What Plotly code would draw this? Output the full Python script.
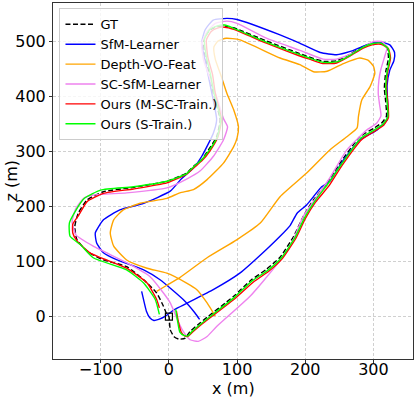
import plotly.graph_objects as go

# trajectories (x, z) in metres
gt_x = [0, 2, 8, 15, 24, 31, 46, 95, 121, 143, 163, 183, 197, 212, 232, 251, 280, 300, 312, 319, 318, 316, 318, 322, 320, 310, 298, 285, 266, 246, 227, 205, 190, 143, 95, 82, 70, 60, 51, 53, 60, 65, 75, 70, 58, 48, 36, 26, -3, -52, -96, -120, -133, -138, -135, -120, -96, -62, -37, -18, -8, -3, 0]
gt_z = [0, -24, -37, -41, -39, -27, -11, 37, 67, 86, 108, 146, 182, 212, 243, 279, 327, 342, 352, 364, 390, 415, 445, 470, 489, 498, 497, 491, 477, 465, 464, 472, 479, 501, 525, 528, 527, 521, 503, 472, 440, 406, 358, 327, 303, 285, 273, 261, 246, 235, 227, 212, 188, 164, 140, 119, 103, 91, 67, 43, 19, 4, 0]

sfm_x = [-40, -37, -33, -28, -22, -15, -5, 7, 65, 104, 143, 163, 178, 188, 202, 212, 224, 236, 256, 280, 305, 320, 321, 320, 324, 330, 331, 324, 310, 290, 266, 246, 222, 190, 163, 100, 85, 65, 53, 48, 53, 63, 70, 65, 48, 36, 18, 2, -37, -72, -96, -108, -106, -96, -76, -37, -13, 21, 38, 45]
sfm_z = [46, 30, 10, -2, -7, -5, 1, 12, 49, 79, 122, 146, 166, 188, 203, 218, 236, 246, 285, 321, 339, 358, 382, 420, 448, 465, 480, 494, 499, 494, 482, 476, 480, 498, 512, 540, 542, 539, 521, 497, 466, 406, 358, 333, 291, 270, 250, 228, 206, 194, 176, 152, 134, 116, 103, 85, 67, 31, 7, -5]

dvo_x = [-18, -3, 16, 56, 100, 134, 163, 202, 236, 261, 276, 278, 283, 295, 302, 300, 292, 280, 256, 232, 212, 192, 163, 104, 84, 72, 66, 68, 77, 85, 95, 102, 100, 95, 80, 56, 36, 16, -3, -42, -67, -81, -86, -81, -62, -32, -3, 26, 41, 56, 68]
dvo_z = [46, 57, 71, 107, 140, 170, 218, 261, 303, 327, 343, 364, 394, 418, 442, 455, 466, 470, 460, 446, 445, 458, 470, 503, 506, 501, 490, 468, 436, 406, 376, 345, 325, 309, 279, 249, 231, 225, 215, 206, 194, 176, 152, 128, 103, 88, 79, 61, 49, 25, 1]

sc_x = [2, 8, 14, 21, 31, 43, 56, 70, 119, 158, 178, 197, 217, 236, 261, 290, 305, 311, 309, 307, 308, 311, 317, 320, 312, 300, 285, 266, 246, 226, 192, 143, 100, 85, 68, 56, 48, 51, 70, 80, 86, 80, 65, 46, 26, -3, -62, -111, -125, -137, -142, -136, -111, -62, -28, -8, 2]
sc_z = [25, 8, -10, -27, -42, -45, -36, -18, 37, 94, 128, 182, 218, 252, 303, 339, 352, 365, 385, 406, 430, 450, 475, 490, 500, 500, 489, 477, 468, 468, 484, 506, 533, 537, 533, 518, 497, 466, 400, 360, 345, 321, 291, 265, 250, 234, 225, 221, 215, 195, 172, 148, 128, 98, 73, 43, 25]

msc_x = [11, 14, 18, 23, 28, 34, 49, 97, 124, 146, 166, 186, 200, 215, 235, 254, 283, 303, 315, 322, 321, 319, 321, 325, 322, 311, 298, 285, 266, 246, 226, 206, 189, 143, 95, 82, 70, 62, 55, 57, 64, 68, 77, 72, 60, 49, 37, 26, -3, -52, -96, -120, -132, -141, -141, -135, -116, -62, -32, -18, -14]
msc_z = [10, -10, -28, -35, -36, -29, -13, 33, 63, 82, 105, 142, 178, 208, 238, 275, 322, 338, 348, 362, 390, 415, 445, 470, 487, 495, 494, 488, 474, 461, 460, 468, 475, 497, 522, 526, 524, 518, 503, 472, 440, 406, 358, 327, 301, 284, 271, 259, 243, 232, 224, 209, 185, 168, 152, 138, 116, 88, 61, 31, 16]

s_x = [10, 13, 16, 22, 28, 33, 48, 96, 122, 145, 165, 185, 199, 214, 233, 253, 282, 302, 314, 321, 320, 318, 320, 324, 321, 311, 298, 285, 266, 246, 227, 206, 190, 143, 95, 82, 70, 60, 52, 55, 61, 66, 76, 71, 59, 48, 36, 26, -3, -52, -100, -124, -138, -146, -145, -130, -111, -62, -37, -20, -14]
s_z = [13, -10, -28, -34, -35, -28, -12, 35, 65, 84, 107, 144, 180, 210, 241, 277, 325, 340, 350, 363, 390, 415, 445, 470, 488, 497, 496, 490, 475, 463, 462, 470, 477, 499, 524, 530, 528, 522, 504, 472, 440, 406, 358, 327, 302, 285, 272, 260, 246, 236, 230, 215, 190, 170, 146, 131, 107, 85, 61, 31, 4]

series = [
    ("GT", gt_x, gt_z, "black", "5px,2.5px"),
    ("SfM-Learner", sfm_x, sfm_z, "#0000ff", "solid"),
    ("Depth-VO-Feat", dvo_x, dvo_z, "#ffa500", "solid"),
    ("SC-SfM-Learner", sc_x, sc_z, "#ee82ee", "solid"),
    ("Ours (M-SC-Train.)", msc_x, msc_z, "#ff0000", "solid"),
    ("Ours (S-Train.)", s_x, s_z, "#00ff00", "solid"),
]

fig = go.Figure()
for name, xs, zs, col, dash in series:
    fig.add_trace(go.Scatter(
        x=xs, y=zs, mode="lines", name=name,
        line=dict(color=col, width=1.4, dash=dash, shape="spline", smoothing=0.5),
    ))

# start point
fig.add_trace(go.Scatter(
    x=[0], y=[0], mode="markers", showlegend=False,
    marker=dict(symbol="square-open", size=7, color="black", line=dict(width=1.2)),
))

axis_common = dict(
    showline=True, linecolor="#333333", linewidth=1, mirror=True,
    ticks="outside", ticklen=3, tickcolor="#333333",
    showgrid=True, gridcolor="#d0d0d0", griddash="3px,2px", gridwidth=0.8,
    zeroline=False, tickfont=dict(size=16, color="black"), automargin=False,
)

fig.update_xaxes(range=[-170, 358], tickvals=[-100, 0, 100, 200, 300],
                 ticklabelstandoff=-7, **axis_common)
fig.update_yaxes(range=[-77, 570], tickvals=[0, 100, 200, 300, 400, 500], **axis_common)

# axis titles as annotations so they sit where the reference has them
fig.add_annotation(text="x (m)", xref="paper", yref="paper", x=0.5, y=-0.082,
                   xanchor="center", yanchor="middle", showarrow=False,
                   font=dict(size=16, color="black"))
fig.add_annotation(text="z (m)", xref="paper", yref="paper", x=-0.118, y=0.5,
                   xanchor="center", yanchor="middle", showarrow=False, textangle=-90,
                   font=dict(size=16, color="black"))

fig.update_layout(
    width=416, height=398,
    margin=dict(l=53, r=3, t=3, b=39),
    plot_bgcolor="white", paper_bgcolor="white",
    font=dict(family="DejaVu Sans", color="black"),
    legend=dict(
        x=0.018, y=0.985, xanchor="left", yanchor="top",
        bgcolor="rgba(255,255,255,0.8)", bordercolor="#cccccc", borderwidth=1,
        font=dict(size=13), itemwidth=30, tracegroupgap=0,
    ),
)

# drop the browser's default page margin so the figure sits at the window corner
fig.write_html("out.html", config={"displayModeBar": False},
               post_script="document.body.style.margin='0';")
